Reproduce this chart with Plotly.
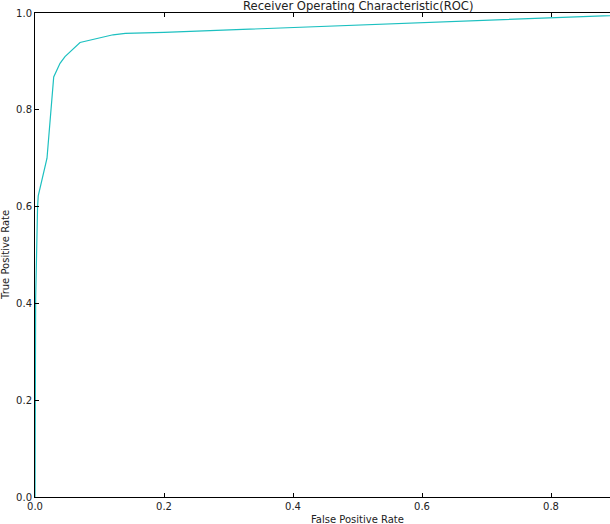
import plotly.graph_objects as go

fpr = [0.0, 0.001, 0.004, 0.005, 0.0186, 0.029, 0.0388, 0.0465, 0.0698, 0.121, 0.14, 0.2, 1.0]
tpr = [0.0, 0.41, 0.60, 0.622, 0.70, 0.868, 0.896, 0.91, 0.939, 0.955, 0.958, 0.96, 1.0]

x_ticks = [0.0, 0.2, 0.4, 0.6, 0.8]
y_ticks = [0.0, 0.2, 0.4, 0.6, 0.8, 1.0]

W, H = 610, 524
ML, MT, MB = 35, 13, 27
full_w = 645  # pixel width of the 0..1 x span
xmax = (W - ML) / full_w

fig = go.Figure()
fig.add_trace(go.Scatter(x=fpr, y=tpr, mode="lines",
                         line=dict(color="#1cc0c0", width=1.2),
                         showlegend=False, hoverinfo="skip"))

font = dict(family="DejaVu Sans", size=10, color="#222")
fig.update_layout(
    width=W, height=H,
    margin=dict(l=ML, r=0, t=MT, b=MB, pad=0, autoexpand=False),
    paper_bgcolor="white", plot_bgcolor="white",
    font=font,
    showlegend=False,
    xaxis=dict(range=[0, xmax], tickvals=x_ticks, ticktext=[f"{v:.1f}" for v in x_ticks],
               showgrid=False, zeroline=False, showline=True, linecolor="black", linewidth=1,
               mirror="ticks", ticks="inside", ticklen=4, tickcolor="black", tickwidth=1,
               tickfont=font, automargin=False),
    yaxis=dict(range=[0, 1], tickvals=y_ticks, ticktext=[f"{v:.1f}" for v in y_ticks],
               showgrid=False, zeroline=False, showline=True, linecolor="black", linewidth=1,
               ticks="inside", ticklen=4, tickcolor="black", tickwidth=1,
               tickfont=font, automargin=False),
)

center_x = (0.5 * full_w) / (W - ML)
fig.add_annotation(text="Receiver Operating Characteristic(ROC)", xref="paper", yref="paper",
                   x=center_x, y=1, xanchor="center", yanchor="bottom", showarrow=False,
                   font=dict(family="DejaVu Sans", size=11.6, color="#222"), yshift=-2)
fig.add_annotation(text="False Positive Rate", xref="paper", yref="paper",
                   x=center_x, y=0, xanchor="center", yanchor="top", showarrow=False,
                   font=dict(family="DejaVu Sans", size=10, color="#222"), yshift=-15)
fig.add_annotation(text="True Positive Rate", xref="paper", yref="paper",
                   x=0, y=0.5, xanchor="center", yanchor="middle", showarrow=False, textangle=-90,
                   font=dict(family="DejaVu Sans", size=10, color="#222"), xshift=-30)

fig.write_html("out.html", config={"displayModeBar": False},
               post_script="document.body.style.margin='0';document.body.style.overflow='hidden';")
